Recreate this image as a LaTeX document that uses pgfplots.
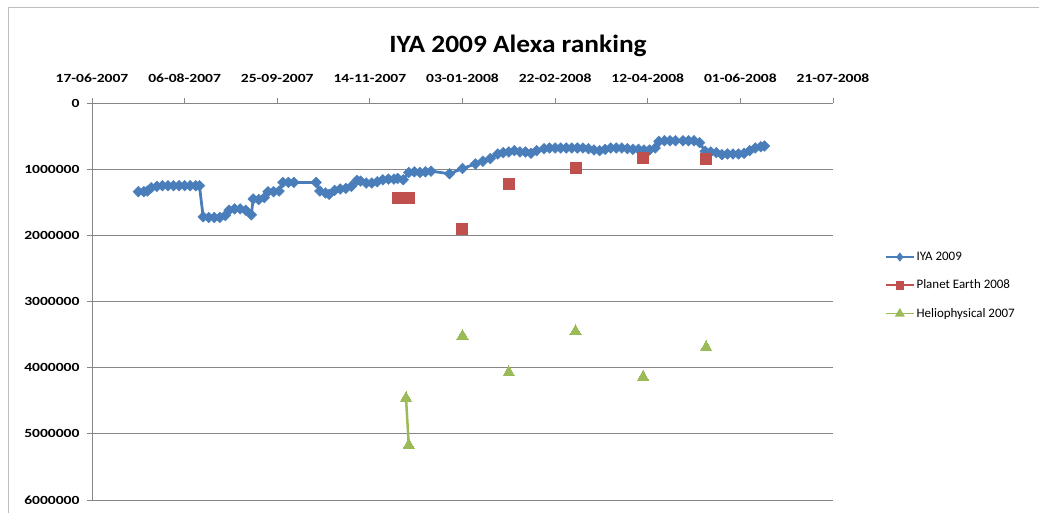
\documentclass[border=0pt]{standalone}
\usepackage{pgfplots}
\pgfplotsset{compat=1.18}
\usepackage{fontspec}
\setmainfont{Carlito}
\newfontfamily\tickfont{Carlito}[FakeStretch=1.25]
\newfontfamily\titlefont{Carlito}[FakeStretch=1.1]
\definecolor{iyablue}{RGB}{74,126,187}
\definecolor{perred}{RGB}{192,80,77}
\definecolor{helgreen}{RGB}{155,187,89}
\definecolor{axgray}{RGB}{134,134,134}
\begin{document}
\begin{tikzpicture}
\path[use as bounding box] (0,0) rectangle (1039bp,513bp);
\draw[color={rgb,255:red,190;green,190;blue,190}, line width=1bp] (8bp,0bp) -- (8bp,505bp) -- (1039bp,505bp);
\node[font=\fontsize{25}{30}\titlefont\bfseries] at (518bp,467bp) {IYA 2009 Alexa ranking};
\begin{axis}[
  at={(92bp,13bp)}, anchor=south west,
  scale only axis, width=741bp, height=397bp,
  xmin=0, xmax=400, ymin=0, ymax=6000000,
  y dir=reverse,
  axis x line*=top, axis y line*=left,
  axis line style={axgray, line width=0.8bp},
  xtick={0,50,...,400},
  xticklabels={17-06-2007,06-08-2007,25-09-2007,14-11-2007,03-01-2008,22-02-2008,12-04-2008,01-06-2008,21-07-2008},
  ytick={0,1000000,...,6000000},
  yticklabels={0,1000000,2000000,3000000,4000000,5000000,6000000},
  scaled y ticks=false,
  tick align=outside, major tick length=5bp,
  tick style={axgray, line width=0.8bp},
  ymajorgrids, grid style={axgray, line width=0.8bp},
  x tick label style={font=\fontsize{12.5}{15}\tickfont\bfseries, yshift=12bp},
  y tick label style={font=\fontsize{12.5}{15}\tickfont\bfseries, xshift=-4bp},
  unbounded coords=jump,
  legend style={draw=none, fill=none, at={(1.066,0.635)}, anchor=north west,
    font=\fontsize{13}{15}\selectfont, row sep=14bp, cells={anchor=west}},
  legend image code/.code={\draw[mark repeat=2,mark phase=2,line width=1.5bp, mark options={scale=0.65}] plot coordinates {(0bp,0bp)(14bp,0bp)(28bp,0bp)};},
  clip=false,
]
\addplot[iyablue, line width=2.8bp, mark=diamond*, mark size=5.3bp, mark options={xscale=1.33, line width=0.5bp}] table[row sep=\\] {
x y\\
25 1340000\\ 28 1340000\\ 30 1330000\\ 32 1280000\\ 35 1260000\\ 38 1250000\\ 41 1250000\\ 44 1250000\\
47 1250000\\ 50 1250000\\ 53 1250000\\ 56 1250000\\ 58 1250000\\ 60 1720000\\ 63 1730000\\ 66 1730000\\
69 1730000\\ 72 1700000\\ 74 1620000\\ 77 1600000\\ 80 1600000\\ 83 1620000\\ 86 1690000\\ 87 1450000\\
90 1460000\\ 93 1430000\\ 95 1340000\\ 98 1340000\\ 101 1330000\\ 103 1200000\\ 106 1200000\\ 109 1200000\\
121 1200000\\ 123 1330000\\ 126 1360000\\ 128 1380000\\ 131 1320000\\ 134 1300000\\ 137 1290000\\ 140 1260000\\
143 1170000\\ 145 1180000\\ 148 1210000\\ 151 1210000\\ 154 1190000\\ 157 1160000\\ 160 1150000\\ 163 1150000\\
165 1140000\\ 168 1160000\\ 171 1050000\\ 174 1040000\\ 177 1050000\\ 180 1040000\\ 183 1030000\\ 193 1070000\\
200 990000\\ 207 920000\\ 211 880000\\ 215 840000\\ 219 770000\\ 222 750000\\ 225 740000\\ 228 720000\\
231 740000\\ 234 740000\\ 237 760000\\ 240 720000\\ 244 690000\\ 247 680000\\ 250 680000\\ 253 680000\\
256 680000\\ 259 680000\\ 262 680000\\ 265 680000\\ 268 690000\\ 271 710000\\ 274 720000\\ 277 700000\\
280 680000\\ 283 680000\\ 286 680000\\ 289 690000\\ 292 700000\\ 295 700000\\ 298 710000\\ 301 710000\\
304 680000\\ 306 580000\\ 309 570000\\ 312 570000\\ 315 570000\\ 319 570000\\ 322 570000\\ 325 570000\\
328 600000\\ 331 730000\\ 334 740000\\ 337 750000\\ 340 780000\\ 343 770000\\ 346 770000\\ 349 770000\\
352 760000\\ 355 720000\\ 358 680000\\ 361 660000\\ 363 650000\\
};
\addlegendentry{IYA 2009}
\addplot[perred, line width=2.5bp, mark=square*, mark size=5.5bp, mark options={line width=0bp}] table[row sep=\\] {
x y\\
165 1430000\\ 171 1430000\\ 185 nan\\ 199.5 1900000\\ 212 nan\\ 225 1220000\\ 243 nan\\ 261 980000\\ 280 nan\\ 297.5 830000\\ 315 nan\\ 331.5 850000\\
};
\addlegendentry{Planet Earth  2008}
\addplot[helgreen, line width=2.5bp, mark=triangle*, mark size=6.5bp, mark options={line width=0bp}] table[row sep=\\] {
x y\\
169.5 4460000\\ 171 5170000\\ 185 nan\\ 200 3520000\\ 212 nan\\ 225 4070000\\ 243 nan\\ 261 3450000\\ 280 nan\\ 297.5 4140000\\ 315 nan\\ 331.5 3690000\\
};
\addlegendentry{Heliophysical  2007}
\end{axis}
\end{tikzpicture}
\end{document}
